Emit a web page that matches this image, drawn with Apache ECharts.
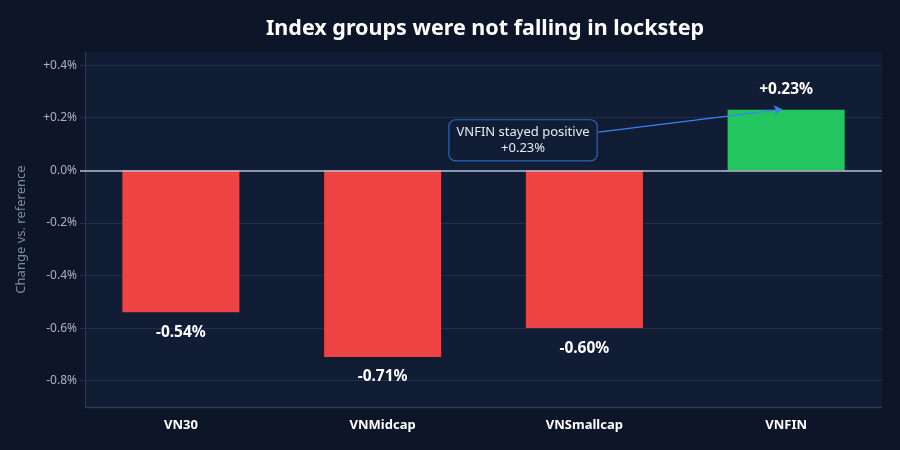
<!DOCTYPE html>
<html lang="en">
<head>
<meta charset="UTF-8" />
<title>Index groups</title>
<style>
  * { margin: 0; padding: 0; box-sizing: border-box; }
  body { background: #0d1628; }
  #chart { width: 900px; height: 450px; }
</style>
</head>
<body>
<div id="chart"></div>
<script src="https://cdn.jsdelivr.net/npm/echarts@6/dist/echarts.min.js"></script>
<script>
// data
var categories = ['VN30', 'VNMidcap', 'VNSmallcap', 'VNFIN'];
var changes = [-0.54, -0.71, -0.60, 0.23];
var yTicks = [0.4, 0.2, 0.0, -0.2, -0.4, -0.6, -0.8];
var noteText = 'VNFIN stayed positive\n+0.23%';
var noteAt = [1.696, 0.114];
var arrowFrom = [2.07, 0.145];
var arrowTo = [2.98, 0.232];

function pct(v, digits) {
  var s = Math.abs(v) < 1e-9 ? (0).toFixed(digits) : v.toFixed(digits);
  if (v > 1e-9) s = '+' + s;
  return s + '%';
}

var chart = echarts.init(document.getElementById('chart'));
chart.setOption({
  backgroundColor: '#0d1628',
  textStyle: { fontFamily: 'Noto Sans' },
  title: {
    text: 'Index groups were not falling in lockstep',
    left: 261,
    top: 13,
    textStyle: { color: '#ffffff', fontSize: 21.5, fontWeight: 'bold', fontFamily: 'Noto Sans' }
  },
  // plot panel
  graphic: [{
    type: 'rect',
    z: 0,
    silent: true,
    shape: { x: 85, y: 52, width: 797, height: 355 },
    style: { fill: '#111d34' }
  }, {
    type: 'line',
    z: 0,
    silent: true,
    shape: { x1: 85.5, y1: 52, x2: 85.5, y2: 407 },
    style: { stroke: '#2b3a55', lineWidth: 1 }
  }, {
    type: 'line',
    z: 0,
    silent: true,
    shape: { x1: 85, y1: 407.5, x2: 882, y2: 407.5 },
    style: { stroke: '#2b3a55', lineWidth: 1.5 }
  }],
  grid: { left: 80, right: 13, top: 52, bottom: 43 },
  xAxis: [{
    type: 'category',
    data: categories,
    axisLine: { show: false },
    axisTick: { show: false },
    axisLabel: { color: '#ffffff', fontSize: 13, fontWeight: 'bold', margin: 12 }
  }, {
    type: 'value',
    min: -0.5, max: 3.5,
    show: false
  }],
  yAxis: {
    type: 'value',
    min: -0.9, max: 0.45,
    interval: 0.1,
    name: 'Change vs. reference',
    nameLocation: 'middle',
    nameGap: 52,
    nameTextStyle: { color: '#7f8ba0', fontSize: 13 },
    axisLine: { show: false, onZero: false },
    axisTick: { show: false },
    splitLine: { show: false },
    axisLabel: {
      color: '#a9b3c3', fontSize: 12, margin: 3,
      formatter: function (v) {
        for (var i = 0; i < yTicks.length; i++) {
          if (Math.abs(v - yTicks[i]) < 1e-6) return pct(yTicks[i], 1);
        }
        return '';
      }
    }
  },
  series: [{
    type: 'bar',
    z: 3,
    data: changes.map(function (v) {
      return {
        value: v,
        itemStyle: { color: v >= 0 ? '#22c55e' : '#ef4444' },
        label: { position: v >= 0 ? 'top' : 'bottom' }
      };
    }),
    barWidth: '58%',
    label: {
      show: true,
      distance: 12,
      color: '#ffffff',
      fontSize: 15.5,
      fontWeight: 'bold',
      formatter: function (p) { return pct(p.value, 2); }
    }
  }, {
    // gridlines
    type: 'scatter',
    xAxisIndex: 1,
    data: [],
    z: 1,
    markLine: {
      silent: true,
      z: 1,
      symbol: 'none',
      label: { show: false },
      lineStyle: { color: '#22304a', width: 1, type: 'solid' },
      data: yTicks.filter(function (t) { return t !== 0; }).map(function (t) {
        return [{ coord: [-0.5, t] }, { coord: [3.475, t] }];
      })
    }
  }, {
    // zero line
    type: 'scatter',
    xAxisIndex: 1,
    data: [],
    z: 4,
    markLine: {
      silent: true,
      z: 4,
      symbol: 'none',
      label: { show: false },
      lineStyle: { color: '#b4c0d2', width: 1.5, type: 'solid' },
      data: [[{ coord: [-0.5, 0] }, { coord: [3.475, 0] }]]
    }
  }, {
    type: 'scatter',
    xAxisIndex: 1,
    data: [],
    z: 5,
    markLine: {
      silent: true,
      z: 5,
      symbol: ['none', 'arrow'],
      symbolSize: 8,
      label: { show: false },
      lineStyle: { color: '#3b82f6', width: 1.2, type: 'solid' },
      data: [[{ coord: arrowFrom }, { coord: arrowTo }]]
    },
    markPoint: {
      silent: true,
      z: 6,
      symbolSize: 0,
      data: [{
        coord: noteAt,
        label: {
          show: true,
          position: 'inside',
          formatter: noteText,
          color: '#e6ecf5',
          fontSize: 13,
          lineHeight: 16,
          align: 'center',
          backgroundColor: '#111d34',
          borderColor: '#2c64c0',
          borderWidth: 1.2,
          borderRadius: 6,
          padding: [4, 7]
        }
      }]
    }
  }]
});
</script>
</body>
</html>
